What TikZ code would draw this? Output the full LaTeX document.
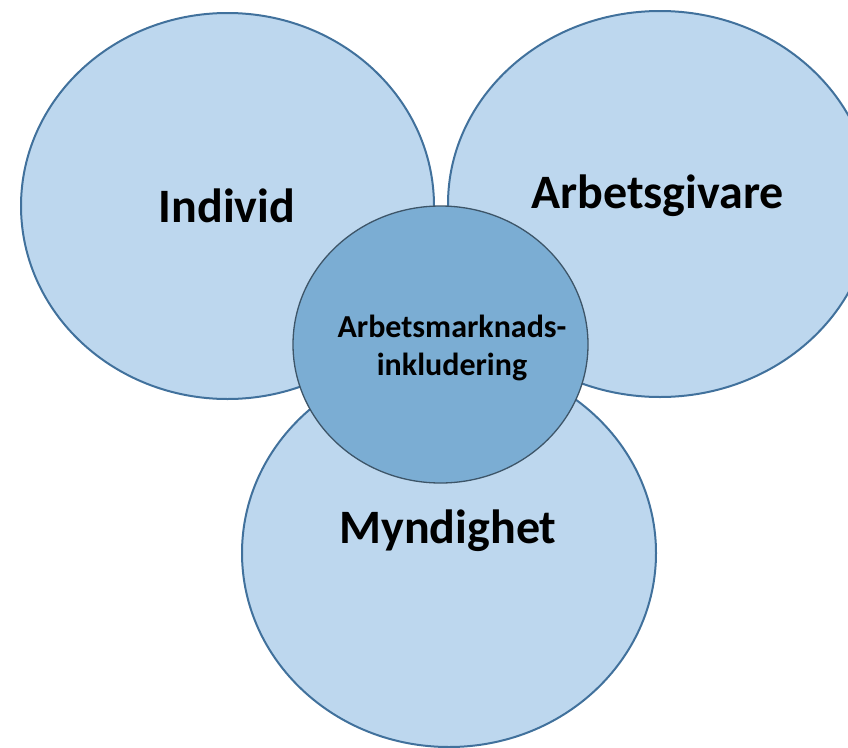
\documentclass[tikz,border=0pt]{standalone}
\usepackage{fontspec}
\setmainfont{Carlito}
\usetikzlibrary{shapes.geometric}
\definecolor{lightfill}{HTML}{BDD7EE}
\definecolor{outerline}{HTML}{41719C}
\definecolor{midfill}{HTML}{7BADD3}
\definecolor{midline}{HTML}{3D5568}
\tikzset{
  outerell/.style={ellipse, draw=outerline, fill=lightfill, line width=2pt, inner sep=0pt},
  midell/.style={ellipse, draw=midline, fill=midfill, line width=1.3pt, inner sep=0pt},
  bigtext/.style={font=\fontsize{48}{58}\selectfont\bfseries, anchor=base, inner sep=0pt},
  midtext/.style={font=\fontsize{32}{38}\selectfont\bfseries, align=center, inner sep=0pt}
}
\begin{document}
\begin{tikzpicture}[x=1pt,y=-1pt]
\useasboundingbox (0,0) rectangle (848,747);
\clip (0,0) rectangle (848,747);
\node[outerell, minimum width=413pt, minimum height=386pt] (individ) at (227.5,206) {};
\node[outerell, minimum width=424pt, minimum height=386pt] (arbetsgivare) at (660,204) {};
\node[outerell, minimum width=414pt, minimum height=388pt] (myndighet) at (449,553) {};
\node[midell, minimum width=295pt, minimum height=277pt] (center) at (440.5,344.5) {};
\node[bigtext] (tindivid) at (227,222) {Individ};
\node[bigtext] (tarbetsgivare) at (657.5,208) {Arbetsgivare};
\node[bigtext] (tmyndighet) at (448,543) {Myndighet};
\node[midtext, anchor=base] (tcenter) at (452,375) {Arbetsmarknads-\\inkludering};
\end{tikzpicture}
\end{document}
